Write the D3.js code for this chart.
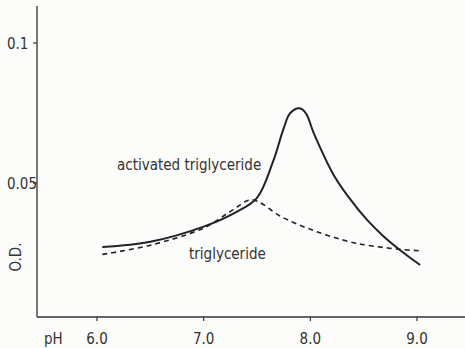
<!DOCTYPE html>
<html>
<head>
<meta charset="utf-8">
<script src="https://cdn.jsdelivr.net/npm/d3@7"></script>
<style>
  body { margin: 0; background: #fcfcfa; }
  svg { display: block; }
  text { font-family: "DejaVu Sans Condensed", "Liberation Sans Narrow", sans-serif; fill: #333; }
</style>
</head>
<body>
<svg id="chart" width="465" height="348"></svg>
<script>
// pH / O.D. readings
const activatedPH = [6.05, 6.5, 7.0, 7.3, 7.5, 7.65, 7.75, 7.81, 7.9, 7.96, 8.03, 8.22, 8.37, 8.53, 8.68, 8.84, 9.03];
const activatedOD = [0.0271, 0.0290, 0.0344, 0.0395, 0.0447, 0.0576, 0.0695, 0.0749, 0.0767, 0.0748, 0.0680, 0.0528, 0.0444, 0.0369, 0.0312, 0.0261, 0.0207];
const trigPH = [6.05, 6.5, 7.0, 7.27, 7.45, 7.74, 8.06, 8.37, 8.53, 8.84, 9.03];
const trigOD = [0.0245, 0.0278, 0.0339, 0.0403, 0.0440, 0.0377, 0.0326, 0.0290, 0.0278, 0.0263, 0.0258];
const xTicks = [6.0, 7.0, 8.0, 9.0];
const xTickLabels = ["6.0", "7.0", "8.0", "9.0"];
const yTicks = [0.05, 0.1];
const yTickLabels = ["0.05", "0.1"];

const svg = d3.select("#chart");

const x = d3.scaleLinear().domain([6, 9]).range([97, 417]);
const y = d3.scaleLinear().domain([0, 0.1]).range([323, 43]);

const axisX = 37, axisY = 317;

// axes
svg.append("line")
    .attr("x1", axisX).attr("y1", 6)
    .attr("x2", axisX).attr("y2", axisY)
    .attr("stroke", "#333").attr("stroke-width", 1.3);
svg.append("line")
    .attr("x1", axisX).attr("y1", axisY)
    .attr("x2", 465).attr("y2", axisY)
    .attr("stroke", "#333").attr("stroke-width", 1.3);

// y ticks
yTicks.forEach((t, i) => {
    svg.append("line")
        .attr("x1", axisX - 4).attr("y1", y(t))
        .attr("x2", axisX).attr("y2", y(t))
        .attr("stroke", "#333").attr("stroke-width", 1.2);
    svg.append("text")
        .attr("x", 7).attr("y", y(t) + 6)
        .attr("font-size", 15)
        .text(yTickLabels[i]);
});

// x ticks
xTicks.forEach((t, i) => {
    svg.append("line")
        .attr("x1", x(t)).attr("y1", axisY)
        .attr("x2", x(t)).attr("y2", axisY + 4)
        .attr("stroke", "#333").attr("stroke-width", 1.2);
    svg.append("text")
        .attr("x", x(t)).attr("y", 344)
        .attr("text-anchor", "middle")
        .attr("font-size", 15)
        .text(xTickLabels[i]);
});

svg.append("text")
    .attr("x", 44).attr("y", 344)
    .attr("font-size", 15)
    .text("pH");

svg.append("text")
    .attr("transform", "translate(21,257) rotate(-90)")
    .attr("text-anchor", "middle")
    .attr("font-size", 15)
    .text("O.D.");

const line = d3.line()
    .x(d => x(d[0]))
    .y(d => y(d[1]))
    .curve(d3.curveCatmullRom.alpha(0.5));

svg.append("path")
    .datum(trigPH.map((p, i) => [p, trigOD[i]]))
    .attr("d", line)
    .attr("fill", "none")
    .attr("stroke", "#222")
    .attr("stroke-width", 1.6)
    .attr("stroke-dasharray", "5,4");

svg.append("path")
    .datum(activatedPH.map((p, i) => [p, activatedOD[i]]))
    .attr("d", line)
    .attr("fill", "none")
    .attr("stroke", "#222")
    .attr("stroke-width", 2);

// curve labels
svg.append("text")
    .attr("x", 117).attr("y", 170)
    .attr("font-size", 15)
    .text("activated triglyceride");

svg.append("text")
    .attr("x", 189).attr("y", 259)
    .attr("font-size", 15)
    .text("triglyceride");
</script>
</body>
</html>
